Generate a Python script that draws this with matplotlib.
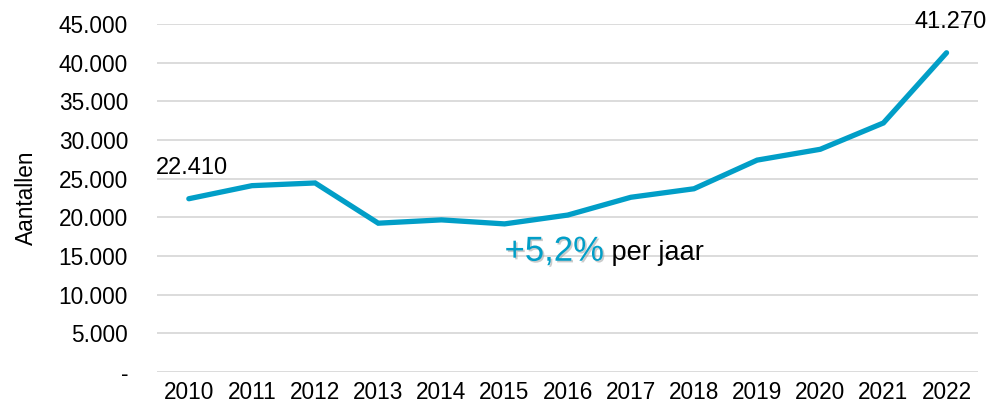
import matplotlib.pyplot as plt
import matplotlib.patheffects as pe
from matplotlib.ticker import FuncFormatter

plt.rcParams['font.family'] = ['Liberation Sans', 'DejaVu Sans']

years = ['2010', '2011', '2012', '2013', '2014', '2015', '2016',
         '2017', '2018', '2019', '2020', '2021', '2022']
aantallen = [22410, 24100, 24450, 19250, 19680, 19160, 20300,
             22600, 23700, 27400, 28800, 32200, 41270]

blue = '#019ec7'

fig = plt.figure(figsize=(9.89, 4.05), dpi=100)
ax = fig.add_axes([0.159, 0.081, 0.83, 0.86])

x = range(len(years))
ax.plot(x, aantallen, color=blue, lw=3.8, solid_capstyle='round', solid_joinstyle='miter', zorder=3)

ax.set_xlim(-0.5, len(years) - 0.5)
ax.set_ylim(0, 45000)
ax.set_yticks(range(0, 45001, 5000))
ax.set_xticks(list(x))
ax.set_xticklabels(years)

def fmt(v, pos):
    if v == 0:
        return '-'
    return f'{int(v):,}'.replace(',', '.')

ax.yaxis.set_major_formatter(FuncFormatter(fmt))
ax.grid(axis='y', color='#d9d9d9', lw=1.3)
ax.set_axisbelow(True)
for s in ax.spines.values():
    s.set_visible(False)
ax.tick_params(length=0, labelsize=16.3, colors='black')
ax.tick_params(axis='y', pad=21)
ax.tick_params(axis='x', pad=6)
ax.set_ylabel('Aantallen', fontsize=16.3, labelpad=15)

# begin- en eindwaarde
ax.annotate(fmt(aantallen[0], 0), (0, aantallen[0]), xytext=(2, 14), textcoords='offset points',
            ha='center', va='bottom', fontsize=17)
ax.annotate(fmt(aantallen[-1], 0), (len(years) - 1, aantallen[-1]), xytext=(3, 14), textcoords='offset points',
            ha='center', va='bottom', fontsize=17, annotation_clip=False)

t = ax.text(5.0, 14400, '+5,2%', color=blue, fontsize=25, ha='left', va='baseline',
            path_effects=[pe.withSimplePatchShadow(offset=(1.2, -1.2), shadow_rgbFace='#999999', alpha=0.5)])
ax.annotate(' per jaar', xycoords=t, xy=(1, 0), va='bottom', ha='left', fontsize=19.5,
            textcoords='offset points', xytext=(0, 1))

fig.savefig('out.png', dpi=100)
